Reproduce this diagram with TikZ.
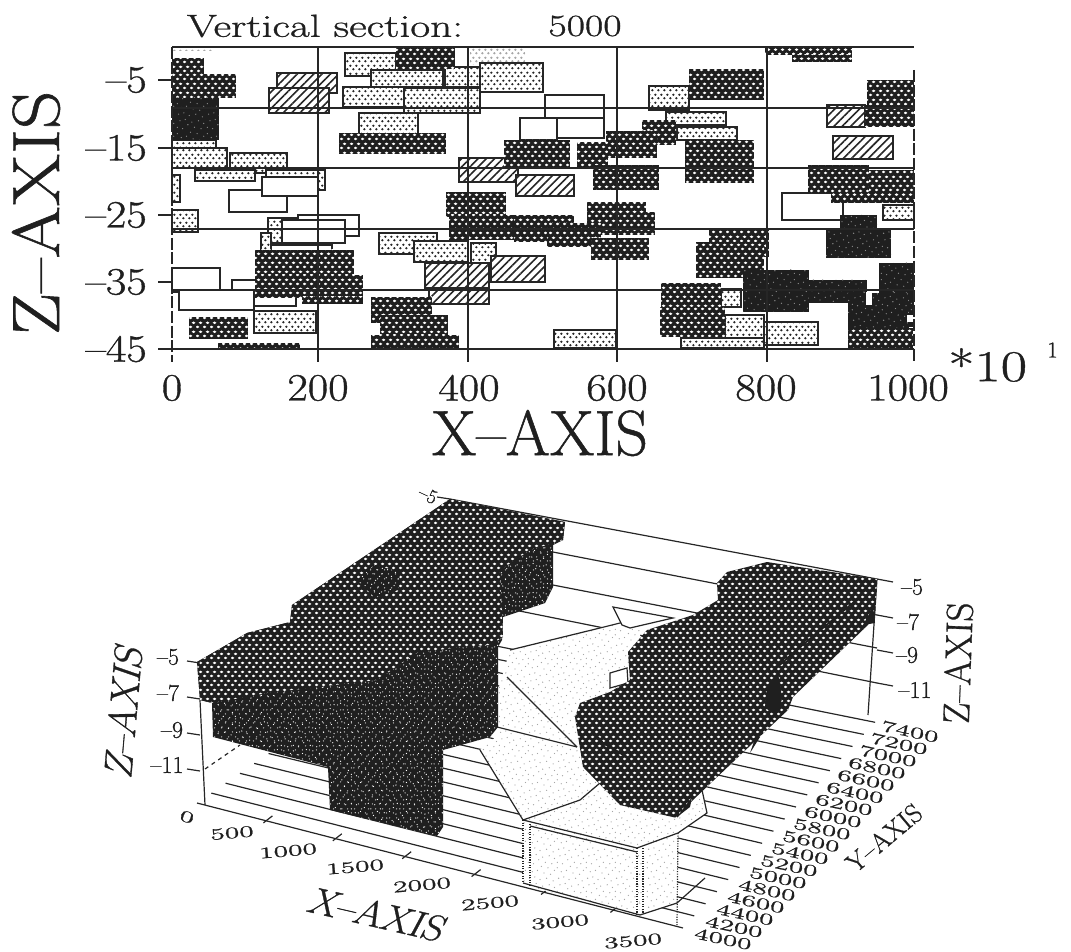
\documentclass[tikz,border=0pt]{standalone}
\usepackage{graphicx}
\usepackage{fontspec}
\setmainfont[FakeBold=.8,Ligatures=TeX]{Latin Modern Roman}
\newfontfamily\skewfont[FakeBold=.8,FakeSlant=.25,Ligatures=TeX]{Latin Modern Roman}
\usetikzlibrary{patterns,patterns.meta}

% white lattice on the dark cells
\pgfdeclarepatternformonly{hexdots}{\pgfqpoint{0pt}{0pt}}{\pgfqpoint{4.9pt}{6.4pt}}{\pgfqpoint{4.9pt}{6.4pt}}{
	\pgfpathellipse{\pgfqpoint{1.2pt}{1.6pt}}{\pgfqpoint{1.5pt}{0pt}}{\pgfqpoint{0pt}{1pt}}
	\pgfpathellipse{\pgfqpoint{3.65pt}{4.8pt}}{\pgfqpoint{1.5pt}{0pt}}{\pgfqpoint{0pt}{1pt}}
	\pgfusepath{fill}
}
% same lattice, small holes
\pgfdeclarepatternformonly{finehex}{\pgfqpoint{0pt}{0pt}}{\pgfqpoint{4.9pt}{6.4pt}}{\pgfqpoint{4.9pt}{6.4pt}}{
	\pgfpathellipse{\pgfqpoint{1.2pt}{1.6pt}}{\pgfqpoint{.6pt}{0pt}}{\pgfqpoint{0pt}{.4pt}}
	\pgfpathellipse{\pgfqpoint{3.65pt}{4.8pt}}{\pgfqpoint{.6pt}{0pt}}{\pgfqpoint{0pt}{.4pt}}
	\pgfusepath{fill}
}
% black lattice on the light cells
\pgfdeclarepatternformonly{blackdots}{\pgfqpoint{0pt}{0pt}}{\pgfqpoint{4.4pt}{5.6pt}}{\pgfqpoint{4.4pt}{5.6pt}}{
	\pgfpathcircle{\pgfqpoint{1.1pt}{1.4pt}}{.95pt}
	\pgfpathcircle{\pgfqpoint{3.3pt}{4.2pt}}{.95pt}
	\pgfusepath{fill}
}
% irregular specks
\pgfdeclarepatternformonly{specks}{\pgfqpoint{0pt}{0pt}}{\pgfqpoint{22pt}{22pt}}{\pgfqpoint{22pt}{22pt}}{
	\foreach \sx/\sy in {1/2,5/1,9/4,14/2,19/1,3/7,7/8,12/6,17/7,21/5,2/12,6/13,10/11,15/12,20/10,4/17,8/18,13/16,18/15,1/20,11/21,16/20,21/18}{
		\pgfpathcircle{\pgfpoint{\sx pt}{\sy pt}}{.5pt}
	}
	\pgfusepath{fill}
}

\tikzset{
	hexd/.style={preaction={fill=black!88},pattern=hexdots,pattern color=white},
	dotl/.style={draw=black!85,line width=.8pt,preaction={fill=white},pattern=blackdots,pattern color=black!85},
	faintc/.style={preaction={fill=white},pattern=blackdots,pattern color=black!35},
	hatchb/.style={draw=black!85,line width=.9pt,preaction={fill=white},pattern={Lines[angle=45,distance=4.4pt,line width=1.2pt]},pattern color=black!85},
	outl/.style={draw=black!85,line width=.8pt,fill=white},
	soldk/.style={preaction={fill=black!88},pattern=specks,pattern color=black!45},
	mottl/.style={preaction={fill=black!88},preaction={pattern=specks,pattern color=white},pattern=finehex,pattern color=white},
	stipl/.style={preaction={fill=white},pattern=specks,pattern color=black!35},
	gridln/.style={draw=black!85,line width=.8pt},
	edgeln/.style={draw=black!85,line width=.9pt},
}

\begin{document}
\begin{tikzpicture}[x=.75pt,y=-.75pt,every node/.style={inner sep=0pt,text=black!88}]
	\useasboundingbox (0,0) rectangle (1071,952);

	% upper plot, cells
	\foreach \xa/\ya/\xb/\yb in {172/47/213/51,470/48/525/65}
		\fill[faintc] (\xa,\ya) rectangle (\xb,\yb);
	\foreach \xa/\ya/\xb/\yb in {345/53/396/76,371/70/443/87,343/87/404/107,404/88/480/113,359/113/418/135,445/67/480/87,480/63/543/92,172/140/216/154,172/148/227/168,230/153/287/173,266/170/325/190,195/170/255/181,172/210/198/232,172/175/180/202,379/233/437/254,414/241/468/262,471/243/496/268,254/311/316/333,268/218/298/243,261/233/271/253,649/86/689/110,666/112/726/125,677/127/737/140,883/205/914/220,721/289/741/307,725/315/764/338,681/338/764/348,764/322/818/345,554/330/616/348}
		\draw[dotl] (\xa,\ya) rectangle (\xb,\yb);
	\foreach \xa/\ya/\xb/\yb in {229/190/287/212,298/215/359/236,282/220/345/243,271/245/332/251,262/177/318/196,172/268/220/292,232/280/296/306,179/290/254/310,545/95/604/138,545/118/604/138,520/118/557/140,782/193/843/220}
		\draw[outl] (\xa,\ya) rectangle (\xb,\yb);
	\foreach \xa/\ya/\xb/\yb in {277/73/337/93,269/88/329/113,459/158/518/182,516/175/574/196,425/263/489/288,429/288/489/304,491/256/545/282,827/105/865/127,833/136/893/159}
		\draw[hatchb] (\xa,\ya) rectangle (\xb,\yb);
	\foreach \xa/\ya/\xb/\yb in {172/58/204/75,172/74/236/98,339/133/446/154,396/48/455/69,446/192/506/217,449/215/514/240,514/215/574/242,504/140/570/167,371/297/432/323,380/315/448/337,371/335/459/348,189/317/248/339,218/343/300/348,255/250/354/277,255/275/363/298,302/297/363/304,765/48/852/55,792/55/852/62,689/69/764/100,642/120/676/145,606/131/657/158,577/142/608/167,593/165/659/190,685/140/754/183,867/80/914/125,865/105/914/127,808/165/869/193,869/170/914/203,831/193/914/203,587/202/646/227,587/212/655/235,547/223/601/247,591/238/649/260,709/230/769/257,696/242/764/278,661/283/721/307,660/307/725/337,848/328/913/348}
		\fill[hexd] (\xa,\ya) rectangle (\xb,\yb);
	\foreach \xa/\ya/\xb/\yb in {172/98/219/140,826/230/891/258,840/215/877/230,743/270/809/312,809/280/867/303,879/263/914/327,848/293/909/328}
		\fill[soldk] (\xa,\ya) rectangle (\xb,\yb);
	\fill[white] (866,292) rectangle (872,305);
	\fill[white] (907,315) rectangle (914,322);

	% upper plot, frame and grid
	\foreach \gy in {108,168,229,290}
		\draw[gridln] (172,\gy) -- (914,\gy);
	\draw[gridln] (172,47) -- (914,47);
	\draw[gridln] (158,349) -- (914,349);
	\foreach \gx in {318,468,617,767}
		\draw[gridln] (\gx,47) -- (\gx,362);
	\draw[gridln,dash pattern=on 9pt off 2pt] (172,47) -- (172,362);
	\draw[gridln,dash pattern=on 9pt off 2pt] (914,70) -- (914,362);
	\foreach \ty in {80,148,215,282}
		\draw[gridln] (158,\ty) -- (172,\ty);

	% lower plot, walls and floor
	\foreach \i in {0,...,17}
		\draw[edgeln] ({197+\i*14.3},{803-\i*9.9}) -- ({683+\i*11.3},{928-\i*12.1});
	\draw[edgeln] (450,499) -- (877,579);
	\draw[edgeln] (450,532) -- (877,615);
	\draw[edgeln] (450,565) -- (877,648);
	\draw[edgeln] (450,597) -- (877,683);
	\draw[edgeln] (877,579) -- (868,715);
	\draw[edgeln] (200,700) -- (205,805);
	\draw[edgeln,dashed] (205,769) -- (240,745);
	\foreach \i in {1,...,6}
		\draw[edgeln] ({197+\i*69.4-3},{803+\i*17.9+2}) -- ({197+\i*69.4+6},{803+\i*17.9-5});

	% lower plot, pale body
	\fill[stipl] (510,650) -- (600,628) -- (640,618) -- (640,700) -- (620,790) -- (702,790) -- (707,813) -- (678,833) -- (637,848) -- (523,820) -- (480,750) -- (498,735) -- (498,690) -- cycle;
	\fill[stipl] (523,820) -- (637,848) -- (640,915) -- (523,885) -- cycle;
	\fill[stipl] (637,848) -- (678,833) -- (677,903) -- (640,915) -- cycle;
	\draw[edgeln] (510,650) -- (600,628) -- (640,618);
	\draw[edgeln] (507,677) -- (577,747);
	\draw[edgeln] (497,727) -- (577,747);
	\draw[edgeln] (480,750) -- (523,820) -- (580,800) -- (600,783);
	\draw[edgeln] (702,790) -- (707,813) -- (678,833) -- (637,848) -- (523,820);
	\draw[edgeln] (530,826) -- (637,852);
	\draw[edgeln] (523,883) -- (640,915) -- (677,903) -- (705,878);
	\draw[edgeln,densely dotted] (523,820) -- (523,883);
	\draw[edgeln,densely dotted] (530,824) -- (530,885);
	\draw[edgeln,densely dotted] (637,848) -- (637,915);
	\draw[edgeln,densely dotted] (643,848) -- (643,913);
	\draw[edgeln,densely dotted] (678,833) -- (677,925);
	\draw[edgeln,fill=white] (613,607) -- (673,618) -- (630,628) -- (622,625) -- cycle;
	\draw[edgeln,fill=white] (610,673) -- (627,668) -- (628,683) -- (610,688) -- cycle;

	% lower plot, left body
	\fill[mottl] (450,499) -- (565,522) -- (563,540) -- (553,545) -- (553,587) -- (545,603) -- (503,617) -- (502,640) -- (498,647) -- (498,727) -- (490,737) -- (443,750) -- (443,827) -- (437,836) -- (330,810) -- (328,767) -- (213,737) -- (212,703) -- (200,700) -- (197,662) -- (247,633) -- (290,622) -- (292,605) -- cycle;
	\fill[hexd] (450,499) -- (565,522) -- (563,540) -- (530,550) -- (500,570) -- (503,637) -- (490,645) -- (460,647) -- (417,653) -- (377,680) -- (267,693) -- (213,703) -- (200,700) -- (197,662) -- (247,633) -- (290,622) -- (292,605) -- cycle;
	\fill[mottl] (357,580) -- (375,565) -- (400,572) -- (398,590) -- (375,598) -- cycle;

	% lower plot, right body
	\fill[hexd] (877,579) -- (767,562) -- (727,572) -- (717,583) -- (718,600) -- (693,615) -- (647,630) -- (628,652) -- (630,680) -- (610,692) -- (580,703) -- (575,717) -- (583,767) -- (620,805) -- (677,818) -- (693,800) -- (753,743) -- (788,710) -- (793,697) -- (870,623) -- (875,615) -- cycle;
	\fill[black!88] (873,607) -- (875,623) -- (863,625) -- cycle;
	\draw[black!88,line width=1.3pt] (860,597) -- (793,653) -- (772,672);
	\fill[black!88] (778,673) -- (767,687) -- (765,707) -- (770,712) -- (780,712) -- (782,697) -- cycle;
	\fill[black!88] (757,733) -- (750,753) -- (760,737) -- cycle;
	\fill[black!88] (677,817) -- (692,797) -- (690,807) -- cycle;
	\draw[black!88,line width=1.5pt] (593,732) -- (603,743) -- (627,757);

	% lower plot, ticks
	\foreach \ty/\tz in {661/663,697/699,733/735,769/771}
		\draw[edgeln] (187,\ty) -- (200,\tz);
	\draw[edgeln] (437,497) -- (450,499);
	\foreach \ty/\tz in {579/582,615/618,650/653,683/686}
		\draw[edgeln] (877,\ty) -- (893,\tz);

	% text
	\node (title) at (325,26) {\fontsize{24}{24}\selectfont\scalebox{1.35}[1]{Vertical section:}};
	\node (section) at (585,26) {\fontsize{23}{23}\selectfont\scalebox{1.3}[1]{5000}};
	\foreach \tx/\tl in {172/0,318/200,469/400,617/600,766/800,908/1000}
		\node (xt\tl) at (\tx,388) {\fontsize{29}{29}\selectfont\scalebox{1.15}[1]{\tl}};
	\foreach \ty/\tl in {80/5,148/15,215/25,282/35,349/45}
		\node[anchor=east] (zt\tl) at (147,\ty) {\fontsize{29}{29}\selectfont\scalebox{1.15}[1]{--\tl}};
	\node (xaxis) at (540,433) {\fontsize{48}{48}\selectfont X--AXIS};
	\node[rotate=90] (zaxis) at (36,213) {\fontsize{50}{50}\selectfont\scalebox{1.13}[1]{Z--AXIS}};
	\node[anchor=west] (power) at (948,365) {\fontsize{33}{33}\selectfont\scalebox{1.3}[1]{*10}};
	\node[anchor=west] (powerexp) at (1047,350) {\fontsize{17}{17}\selectfont 1};

	\foreach \tx/\ty/\tl in {168/657/5,168/693/7,172/730/9,167/765/11,912/587/5,908/622/7,907/655/9,915/690/11}
		\node (zs\tx\tl) at (\tx,\ty) {\fontsize{18}{18}\selectfont --\tl};
	\node[rotate=-25] (zback) at (428,495) {\fontsize{15}{15}\selectfont --5};
	\foreach \tx/\ty/\tl/\tr in {187/817/0/-20,232/833/500/5,288/851/1000/5,355/867/1500/5,422/885/2000/5,490/903/2500/5,560/922/3000/5,633/941/3500/5}
		\node[rotate=\tr] (xs\tl) at (\tx,\ty) {\fontsize{12}{12}\selectfont\scalebox{1.85}[1]{\tl}};
	\foreach \i in {0,...,17}{
		\pgfmathtruncatemacro{\yv}{4000+\i*200}
		\node[rotate=-12] (ys\yv) at ({723+\i*11},{939-\i*12.2}) {\fontsize{12}{12}\selectfont\scalebox{1.85}[1]{\yv}};
	}
	\node[rotate=-13] (xaxisb) at (375,914) {\fontsize{28}{28}\skewfont\scalebox{1.08}[1]{X--AXIS}};
	\node[rotate=40] (yaxisb) at (884,838) {\fontsize{20}{20}\selectfont Y--AXIS};
	\node[rotate=85] (zaxisl) at (123,713) {\fontsize{30}{30}\skewfont Z--AXIS};
	\node[rotate=88] (zaxisr) at (958,663) {\fontsize{28}{28}\selectfont Z--AXIS};
\end{tikzpicture}
\end{document}
